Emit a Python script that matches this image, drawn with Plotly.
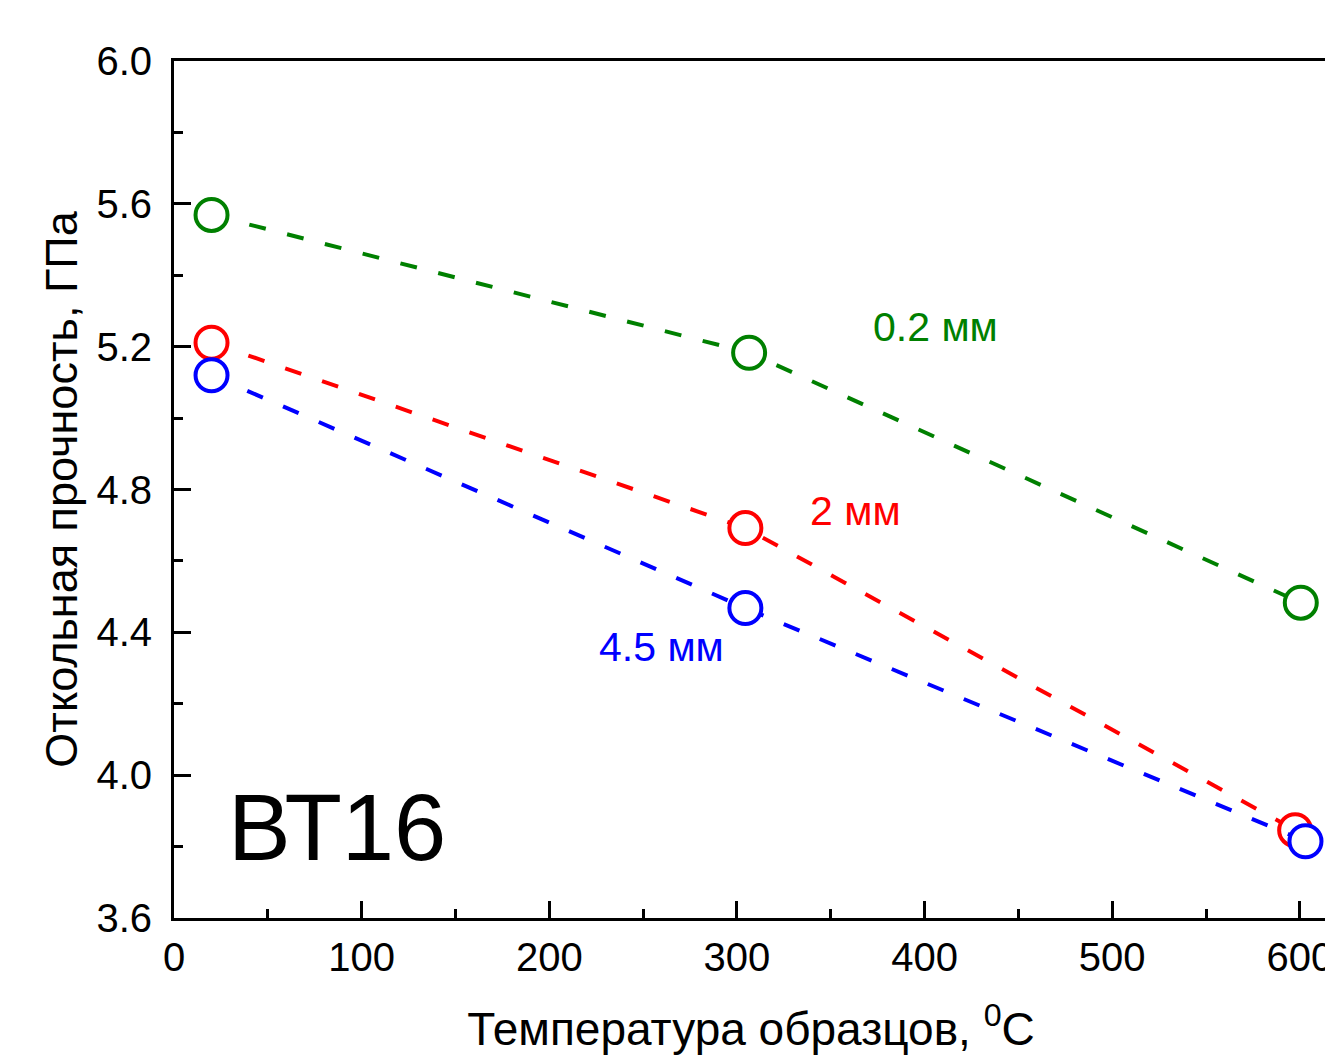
import plotly.graph_objects as go

temp_02 = [20, 306.5, 600.5]
val_02 = [5.569, 5.183, 4.483]
temp_2 = [20, 304.5, 597.5]
val_2 = [5.211, 4.692, 3.846]
temp_45 = [20, 304.5, 603]
val_45 = [5.12, 4.468, 3.815]

series = [
    ("0.2 мм", temp_02, val_02, "#008000"),
    ("2 мм", temp_2, val_2, "#ff0000"),
    ("4.5 мм", temp_45, val_45, "#0000ff"),
]

FONT = "Liberation Sans, Arial, sans-serif"

fig = go.Figure()
for name, xs, ys, col in series:
    fig.add_trace(go.Scatter(
        x=xs, y=ys, mode="lines+markers", name=name,
        line=dict(color=col, width=4, dash="17px,22px"),
        marker=dict(symbol="circle", size=32, color="white",
                    line=dict(color=col, width=4)),
        cliponaxis=False,
    ))

labels = [
    ("0.2 мм", 406, 5.256, "#008000"),
    ("2 мм", 363, 4.739, "#ff0000"),
    ("4.5 мм", 260, 4.359, "#0000ff"),
]
for txt, x, y, col in labels:
    fig.add_annotation(x=x, y=y, xref="x", yref="y", text=txt, showarrow=False,
                       font=dict(family=FONT, size=41, color=col))
fig.add_annotation(x=87, y=3.854, xref="x", yref="y", text="ВТ16", showarrow=False,
                   font=dict(family=FONT, size=94, color="black"))

# page has an 8px body margin, so the figure is offset by 8px
fig.update_layout(
    width=1325, height=1047,
    margin=dict(l=166, r=0, t=53, b=134),
    plot_bgcolor="white", paper_bgcolor="white",
    showlegend=False,
    font=dict(family=FONT, color="black"),
    xaxis=dict(
        range=[0, 615], tick0=0, dtick=100, ticks="inside", ticklen=17, tickwidth=3,
        tickcolor="black", showline=True, linewidth=3, linecolor="black", mirror=True,
        showgrid=False, zeroline=False, tickfont=dict(size=40, family=FONT),
        ticklabelstandoff=2, ticklabeloverflow="allow",
        minor=dict(dtick=50, ticks="inside", ticklen=9, tickwidth=3, tickcolor="black", showgrid=False),
        title=dict(text="Температура образцов, <sup>0</sup>C", font=dict(size=46, family=FONT), standoff=44),
    ),
    yaxis=dict(
        range=[3.6, 6.0], tick0=3.6, dtick=0.4, tickformat=".1f", ticks="inside", ticklen=17, tickwidth=3,
        tickcolor="black", showline=True, linewidth=3, linecolor="black", mirror=False,
        showgrid=False, zeroline=False, tickfont=dict(size=40, family=FONT),
        ticklabelstandoff=11,
        minor=dict(dtick=0.2, ticks="inside", ticklen=9, tickwidth=3, tickcolor="black", showgrid=False),
        title=dict(text="Откольная прочность, ГПа", font=dict(size=45, family=FONT), standoff=5),
    ),
)

fig.write_html("out.html", config={"displayModeBar": False})
